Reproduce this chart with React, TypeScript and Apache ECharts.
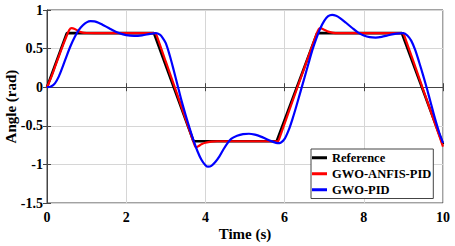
import React, { useEffect, useRef } from "react";
import * as echarts from "echarts";

const xTicks = [0, 2, 4, 6, 8, 10];
const yTicks = [-1.5, -1, -0.5, 0, 0.5, 1];

const referenceData: [number, number][] = [
  [0, 0], [0.5, 0.7], [2.7, 0.7], [3.7, -0.7], [5.8, -0.7], [6.82, 0.7], [8.96, 0.7], [10, -0.74],
];

const anfisData: [number, number][] = [
  [0, 0], [0.1, 0.12], [0.2, 0.26], [0.3, 0.4], [0.4, 0.54], [0.5, 0.67], [0.56, 0.74], [0.62, 0.765],
  [0.7, 0.755], [0.8, 0.725], [0.9, 0.707], [1.0, 0.702], [1.2, 0.7], [2.72, 0.7], [2.76, 0.68],
  [3.0, 0.33], [3.3, -0.11], [3.6, -0.56], [3.72, -0.74], [3.76, -0.78], [3.82, -0.765], [3.9, -0.74],
  [4.0, -0.72], [4.15, -0.705], [4.3, -0.7], [5.83, -0.7], [5.87, -0.66], [6.2, -0.18], [6.5, 0.25],
  [6.8, 0.68], [6.86, 0.75], [6.9, 0.765], [7.0, 0.745], [7.1, 0.72], [7.2, 0.707], [7.35, 0.7],
  [8.98, 0.7], [9.02, 0.67], [9.5, -0.03], [9.9, -0.62], [10, -0.77],
];

const pidData: [number, number][] = [
  [0, 0], [0.1, 0.01], [0.2, 0.05], [0.3, 0.14], [0.4, 0.27], [0.5, 0.41], [0.6, 0.54], [0.7, 0.65],
  [0.8, 0.74], [0.9, 0.8], [1.0, 0.84], [1.1, 0.856], [1.2, 0.852], [1.3, 0.835], [1.4, 0.81],
  [1.6, 0.755], [1.8, 0.705], [2.0, 0.675], [2.2, 0.665], [2.4, 0.672], [2.6, 0.69], [2.75, 0.7],
  [2.85, 0.68], [2.92, 0.64], [3.0, 0.57], [3.1, 0.41], [3.2, 0.22], [3.3, 0.02], [3.4, -0.18],
  [3.5, -0.36], [3.6, -0.53], [3.7, -0.69], [3.8, -0.83], [3.9, -0.94], [4.0, -1.01], [4.07, -1.03],
  [4.15, -1.02], [4.25, -0.97], [4.35, -0.9], [4.45, -0.81], [4.55, -0.73], [4.65, -0.67], [4.8, -0.63],
  [4.95, -0.608], [5.1, -0.603], [5.25, -0.615], [5.4, -0.64], [5.55, -0.675], [5.7, -0.705],
  [5.82, -0.725], [5.9, -0.72], [6.0, -0.67], [6.1, -0.56], [6.2, -0.41], [6.3, -0.24], [6.4, -0.06],
  [6.5, 0.12], [6.6, 0.3], [6.7, 0.48], [6.8, 0.63], [6.9, 0.76], [7.0, 0.86], [7.1, 0.92],
  [7.2, 0.937], [7.3, 0.925], [7.4, 0.895], [7.55, 0.835], [7.7, 0.77], [7.85, 0.71], [8.0, 0.67],
  [8.15, 0.648], [8.3, 0.643], [8.45, 0.652], [8.6, 0.67], [8.75, 0.688], [8.9, 0.698], [9.0, 0.7],
  [9.1, 0.67], [9.2, 0.6], [9.3, 0.48], [9.4, 0.32], [9.5, 0.15], [9.6, -0.03], [9.7, -0.22],
  [9.8, -0.41], [9.9, -0.58], [10, -0.72],
];

const seriesNames = ["Reference", "GWO-ANFIS-PID", "GWO-PID"];

const FONT = "'Liberation Serif', 'Times New Roman', serif";

export default function App() {
  const ref = useRef<HTMLDivElement>(null);
  useEffect(() => {
    if (!ref.current) return;
    const chart = echarts.init(ref.current, undefined, { renderer: "svg" });
    const tickLabel = { color: "#000", fontFamily: FONT, fontWeight: "bold" as const, fontSize: 14 };
    const hiddenAxisBase = {
      axisLabel: { show: false },
      splitLine: { show: false },
      axisLine: { show: false },
      axisTick: { show: true, inside: true, length: 4, lineStyle: { color: "#444" } },
    };
    chart.setOption({
      animation: false,
      backgroundColor: "#fff",
      textStyle: { fontFamily: FONT },
      grid: {
        left: 47, right: 12, top: 10, bottom: 43,
        outerBoundsMode: "none",
        containLabel: false,
        show: true, borderColor: "#444", borderWidth: 1, backgroundColor: "transparent",
      },
      legend: {
        data: seriesNames,
        orient: "vertical",
        left: 311,
        top: 149,
        icon: "rect",
        itemWidth: 15,
        itemHeight: 3,
        itemGap: 2.5,
        padding: [2, 2, 2, 1],
        backgroundColor: "#fff",
        borderColor: "#444",
        borderWidth: 1,
        textStyle: { color: "#000", fontFamily: FONT, fontWeight: "bold", fontSize: 12.5, lineHeight: 13.5 },
      },
      xAxis: [
        {
          type: "value",
          min: 0,
          max: 10,
          interval: 2,
          name: "Time (s)",
          nameLocation: "middle",
          nameGap: 23,
          nameMoveOverlap: false,
          nameTextStyle: { color: "#000", fontFamily: FONT, fontWeight: "bold", fontSize: 15 },
          axisLabel: { ...tickLabel, margin: 7 },
          axisLine: { show: true, lineStyle: { color: "#444", width: 1 } },
          axisTick: { show: true, inside: true, length: 4, lineStyle: { color: "#444" } },
          splitLine: { show: true, lineStyle: { color: "#d6d6d6", width: 1 } },
        },
        { type: "value", position: "top", min: 0, max: 10, interval: 2, ...hiddenAxisBase },
      ],
      yAxis: [
        {
          type: "value",
          min: -1.5,
          max: 1,
          interval: 0.5,
          name: "Angle (rad)",
          nameLocation: "middle",
          nameGap: 29,
          nameMoveOverlap: false,
          nameTextStyle: { color: "#000", fontFamily: FONT, fontWeight: "bold", fontSize: 15 },
          axisLabel: { ...tickLabel, margin: 4 },
          axisLine: { show: true, lineStyle: { color: "#444", width: 1 } },
          axisTick: { show: true, inside: true, length: 4, lineStyle: { color: "#444" } },
          splitLine: { show: true, lineStyle: { color: "#d6d6d6", width: 1 } },
        },
        { type: "value", position: "right", min: -1.5, max: 1, interval: 0.5, ...hiddenAxisBase },
      ],
      series: [
        {
          name: seriesNames[0],
          type: "line",
          data: referenceData,
          symbol: "none",
          lineStyle: { color: "#000", width: 2.6 },
          itemStyle: { color: "#000" },
          z: 2,
        },
        {
          name: seriesNames[1],
          type: "line",
          data: anfisData,
          symbol: "none",
          smooth: 0.2,
          lineStyle: { color: "#ff0000", width: 2.2 },
          itemStyle: { color: "#ff0000" },
          z: 3,
        },
        {
          name: seriesNames[2],
          type: "line",
          data: pidData,
          symbol: "none",
          smooth: 0.3,
          lineStyle: { color: "#0000ff", width: 2.2 },
          itemStyle: { color: "#0000ff" },
          z: 4,
        },
      ],
    });
    return () => chart.dispose();
  }, []);
  return <div ref={ref} style={{ width: 455, height: 246, position: "absolute", left: 0, top: 0 }} />;
}
